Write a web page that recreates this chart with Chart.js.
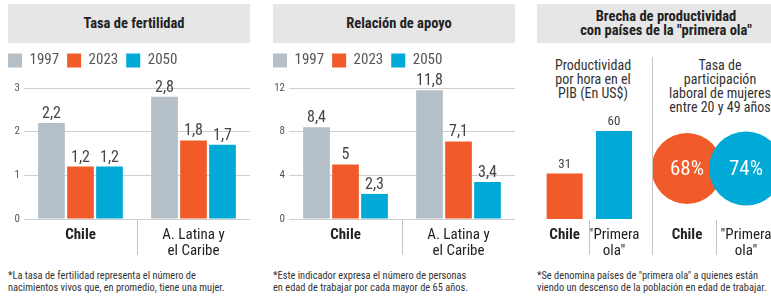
<!DOCTYPE html>
<html>
<head>
<meta charset="utf-8">
<script src="https://cdn.jsdelivr.net/npm/chart.js@4.4.1/dist/chart.umd.min.js"></script>
<style>
body{margin:0;width:771px;height:297px;overflow:hidden;background:#fff;position:relative;
  font-family:'Liberation Sans Narrow','Roboto Condensed','DejaVu Sans Condensed',Roboto,sans-serif;color:#333}
.head{position:absolute;top:4px;height:39px;background:#e6e6e6;display:flex;align-items:center;justify-content:center;
  text-align:center;font-weight:bold;font-size:14.5px;line-height:14px;color:#222;box-sizing:border-box;padding-left:10px}
.note{position:absolute;top:270px;font-size:10.4px;line-height:12px;color:#333;white-space:nowrap}
.sub{position:absolute;top:58px;font-size:14px;line-height:14px;text-align:center;color:#333;white-space:nowrap}
.wrap{position:absolute}
.vline{position:absolute;left:652px;top:57px;width:1px;height:198px;background:#c4c4c4}
canvas{display:block}
</style>
</head>
<body>
<div class="head" style="left:8px;width:242px">Tasa de fertilidad</div>
<div class="head" style="left:273px;width:242px">Relación de apoyo</div>
<div class="head" style="left:537px;width:258px;padding-left:0">Brecha de productividad<br>con países de la "primera ola"</div>

<div class="wrap" style="left:0;top:45px;width:252px;height:221px"><canvas id="fertChart"></canvas></div>
<div class="wrap" style="left:265px;top:45px;width:252px;height:221px"><canvas id="apoyoChart"></canvas></div>
<div class="wrap" style="left:530px;top:109px;width:120px;height:157px"><canvas id="prodChart"></canvas></div>
<div class="wrap" style="left:652px;top:118px;width:119px;height:148px"><canvas id="mujChart"></canvas></div>

<div class="sub" style="left:540px;width:106px">Productividad<br>por hora en el<br>PIB (En US$)</div>
<div class="sub" style="left:665px;width:110px">Tasa de<br>participación<br>laboral de mujeres<br>entre 20 y 49 años</div>
<div class="vline"></div>

<div class="note" style="left:8px">*La tasa de fertilidad representa el número de<br>nacimientos vivos que, en promedio, tiene una mujer.</div>
<div class="note" style="left:273px">*Este indicador expresa el número de personas<br>en edad de trabajar por cada mayor de 65 años.</div>
<div class="note" style="left:537px">*Se denomina países de "primera ola" a quienes están<br>viendo un descenso de la población en edad de trabajar.</div>

<script>
var FONT = "'Liberation Sans Narrow','Roboto Condensed','DejaVu Sans Condensed',Roboto,sans-serif";

// data
var years = ['1997', '2023', '2050'];
var regions = ['Chile', ['A. Latina y', 'el Caribe']];
var fertilidad1997 = [2.2, 2.8];
var fertilidad2023 = [1.2, 1.8];
var fertilidad2050 = [1.2, 1.7];
var apoyo1997 = [8.4, 11.8];
var apoyo2023 = [5, 7.1];
var apoyo2050 = [2.3, 3.4];
var compareLabels = ['Chile', ['"Primera', 'ola"']];
var productividad = [31, 60];
var participacion = [68, 74];

var yearColors = ['#b5bfc7', '#f15a29', '#00a9d6'];
var pairColors = ['#f15a29', '#00a9d6'];

function fmt(v) { return String(v).replace('.', ','); }

// numbers over the bars / inside the circles
var valueLabels = {
    id: 'valueLabels',
    afterDatasetsDraw: function(chart, args, opts) {
        var ctx = chart.ctx;
        ctx.save();
        ctx.font = (opts.weight || 'normal') + ' ' + opts.size + 'px ' + FONT;
        ctx.fillStyle = opts.color;
        ctx.textAlign = 'center';
        chart.data.datasets.forEach(function(ds, i) {
            chart.getDatasetMeta(i).data.forEach(function(el, j) {
                var v = ds.data[j];
                var txt = fmt(typeof v === 'object' ? v.v : v) + (opts.suffix || '');
                if (opts.inside) {
                    ctx.textBaseline = 'middle';
                    ctx.fillText(txt, el.x, el.y + 1);
                } else {
                    ctx.textBaseline = 'alphabetic';
                    ctx.fillText(txt, el.x, el.y - opts.gap);
                }
            });
        });
        ctx.restore();
    }
};

// divider between categories under the axis
var dividers = {
    id: 'dividers',
    afterDraw: function(chart, args, opts) {
        var x = chart.scales.x, ctx = chart.ctx, a = chart.chartArea;
        ctx.save();
        ctx.strokeStyle = '#c4c4c4';
        ctx.lineWidth = 1;
        for (var i = 0; i < x.ticks.length - 1; i++) {
            var px = Math.round((x.getPixelForTick(i) + x.getPixelForTick(i + 1)) / 2) + 0.5;
            ctx.beginPath();
            ctx.moveTo(px, a.bottom + 1);
            ctx.lineTo(px, a.bottom + opts.length);
            ctx.stroke();
        }
        ctx.restore();
    }
};

var tallLegend = {
    id: 'tallLegend',
    beforeInit: function(chart, args, opts) {
        if (!chart.legend) return;
        var fit = chart.legend.fit;
        chart.legend.fit = function() {
            fit.call(this);
            this.height += opts.extra || 0;
        };
    }
};

function tickFont(c) {
    return { family: FONT, size: 15, lineHeight: 1.07, weight: c.index === 0 ? 'bold' : 'normal' };
}

function createGroupChart(canvasId, series, max, step) {
    var ctx = document.getElementById(canvasId).getContext('2d');
    return new Chart(ctx, {
        type: 'bar',
        data: {
            labels: regions,
            datasets: series.map(function(s, i) {
                return {
                    label: years[i],
                    data: s,
                    backgroundColor: yearColors[i],
                    categoryPercentage: 0.77,
                    barPercentage: 0.92
                };
            })
        },
        options: {
            responsive: true,
            maintainAspectRatio: false,
            animation: false,
            layout: { padding: { left: 0, right: 2, top: 0, bottom: 0 } },
            plugins: {
                legend: {
                    position: 'top',
                    align: 'start',
                    labels: {
                        boxWidth: 14,
                        boxHeight: 14,
                        padding: 8,
                        color: '#555',
                        font: { family: FONT, size: 15 }
                    }
                },
                tooltip: { enabled: false },
                tallLegend: { extra: 10 },
                valueLabels: { size: 16, color: '#444', gap: 5 },
                dividers: { length: 36 }
            },
            scales: {
                x: {
                    grid: { display: false, drawTicks: false },
                    border: { display: false },
                    ticks: { color: '#222', padding: 8, font: tickFont, maxRotation: 0, autoSkip: false },
                    afterFit: function(scale) { scale.height = 47; }
                },
                y: {
                    min: 0,
                    max: max,
                    grid: { color: '#cfcfcf', drawTicks: false },
                    border: { display: false },
                    ticks: { stepSize: step, color: '#555', padding: 4, font: { family: FONT, size: 11 } },
                    afterFit: function(scale) { scale.width = 24; }
                }
            }
        },
        plugins: [valueLabels, dividers, tallLegend]
    });
}

createGroupChart('fertChart', [fertilidad1997, fertilidad2023, fertilidad2050], 3, 1);
createGroupChart('apoyoChart', [apoyo1997, apoyo2023, apoyo2050], 12, 4);

// productividad por hora
new Chart(document.getElementById('prodChart').getContext('2d'), {
    type: 'bar',
    data: {
        labels: compareLabels,
        datasets: [{
            label: 'Productividad',
            data: productividad,
            backgroundColor: pairColors,
            categoryPercentage: 1,
            barPercentage: 0.73
        }]
    },
    options: {
        responsive: true,
        maintainAspectRatio: false,
        animation: false,
        layout: { autoPadding: false, padding: { left: 10, right: 10 } },
        plugins: {
            legend: { display: false },
            tooltip: { enabled: false },
            valueLabels: { size: 13, color: '#444', gap: 6 },
            dividers: { length: 36 }
        },
        scales: {
            x: {
                grid: { display: false, drawTicks: false },
                border: { display: false },
                ticks: { color: '#222', padding: 8, font: tickFont, maxRotation: 0, autoSkip: false },
                afterFit: function(scale) { scale.height = 47; }
            },
            y: { display: false, min: 0, max: 75 }
        }
    },
    plugins: [valueLabels, dividers]
});

// participacion laboral, circles sized by area
new Chart(document.getElementById('mujChart').getContext('2d'), {
    type: 'bubble',
    data: {
        datasets: [{
            label: 'Participación',
            data: participacion.map(function(v, i) {
                return { x: i, y: 0, r: Math.sqrt(v) * 4.3, v: v };
            }),
            backgroundColor: pairColors,
            borderColor: pairColors,
            borderWidth: 0,
            clip: false
        }]
    },
    options: {
        responsive: true,
        maintainAspectRatio: false,
        animation: false,
        layout: { autoPadding: false, padding: 0 },
        plugins: {
            legend: { display: false },
            tooltip: { enabled: false },
            valueLabels: { size: 21, color: '#fff', inside: true, suffix: '%' },
            dividers: { length: 36 }
        },
        scales: {
            x: {
                type: 'linear',
                min: -0.593,
                max: 1.424,
                grid: { display: false, drawTicks: false },
                border: { display: false },
                afterBuildTicks: function(scale) {
                    scale.ticks = compareLabels.map(function(l, i) { return { value: i }; });
                },
                ticks: {
                    color: '#222',
                    padding: 8,
                    font: tickFont,
                    maxRotation: 0,
                    autoSkip: false,
                    callback: function(v) { return compareLabels[v]; }
                },
                afterFit: function(scale) {
                    scale.height = 47;
                    scale.paddingLeft = 0;
                    scale.paddingRight = 0;
                }
            },
            y: { display: false, min: -1, max: 1 }
        }
    },
    plugins: [valueLabels, dividers]
});
</script>
</body>
</html>
